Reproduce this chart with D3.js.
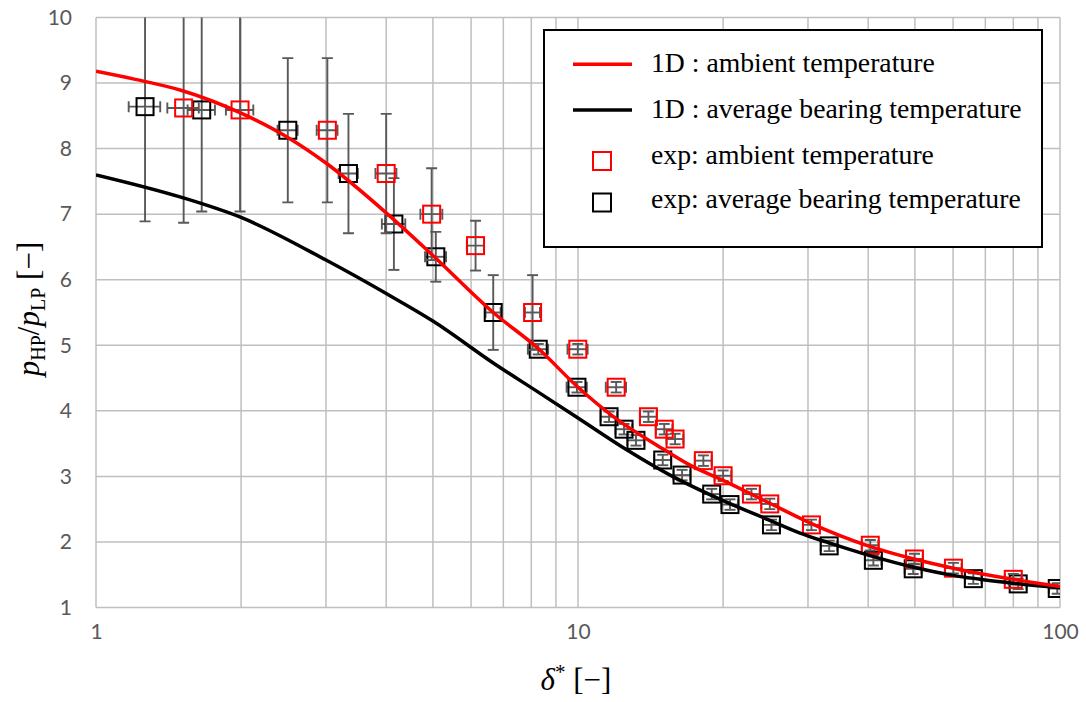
<!DOCTYPE html>
<html>
<head>
<meta charset="utf-8">
<script src="https://cdn.jsdelivr.net/npm/d3@7"></script>
<style>
  html, body { margin: 0; padding: 0; background: #fff; }
  svg { display: block; }
</style>
</head>
<body>
<svg id="chart" width="1086" height="702"></svg>
<script>
// 1D model: pressure ratio vs. dimensionless clearance
const modelAmbientX = [1, 1.2, 1.5, 2, 2.5, 3, 4, 5, 6.67, 8.27, 10, 11.8, 15, 17, 20, 25, 30.5, 40, 50, 60, 80, 100];
const modelAmbientY = [9.18, 9.06, 8.89, 8.54, 8.17, 7.78, 7.02, 6.37, 5.50, 4.95, 4.36, 3.92, 3.42, 3.18, 2.94, 2.59, 2.28, 1.94, 1.735, 1.60, 1.43, 1.32];

const modelBearingX = [1, 1.5, 2, 3, 4, 5, 6.67, 8.33, 10, 12.4, 15.7, 20, 25, 28.8, 32.7, 40, 50, 60, 70, 80, 100];
const modelBearingY = [7.60, 7.26, 6.95, 6.30, 5.79, 5.37, 4.73, 4.27, 3.89, 3.44, 3.00, 2.63, 2.33, 2.14, 2.00, 1.80, 1.61, 1.49, 1.42, 1.37, 1.30];

// Measurements, δ* evaluated at ambient temperature
const expAmbientX = [1.52, 1.99, 3.02, 4.0, 4.97, 6.13, 8.05, 9.99, 12.0, 14.0, 15.1, 15.9, 18.2, 20.0, 22.9, 25.0, 30.5, 40.4, 49.9, 60.1, 80.0];
const expAmbientY = [8.62, 8.59, 8.28, 7.62, 7.00, 6.52, 5.50, 4.94, 4.36, 3.91, 3.72, 3.57, 3.24, 3.01, 2.73, 2.58, 2.26, 1.95, 1.74, 1.60, 1.43];
const expAmbientXErr = [0.114, 0.13, 0.15, 0.2, 0.26, 0.25, 0.29, 0.48, 0.58, 0.56, 0.6, 0.64, 0.73, 0.8, 0.92, 1.0, 1.2, 1.6, 2.0, 2.4, 3.2];
const expAmbientYErr = [1.75, 1.55, 1.10, 0.91, 0.70, 0.38, 0.57, 0.08, 0.08, 0.08, 0.08, 0.08, 0.08, 0.08, 0.08, 0.08, 0.08, 0.08, 0.08, 0.08, 0.08];

// Measurements, δ* evaluated at average bearing temperature
const expBearingX = [1.264, 1.657, 2.50, 3.34, 4.15, 5.07, 6.67, 8.27, 9.95, 11.6, 12.46, 13.19, 14.99, 16.44, 18.94, 20.67, 25.2, 33.2, 41.0, 49.6, 66.1, 81.9, 98.7];
const expBearingY = [8.64, 8.59, 8.28, 7.62, 6.85, 6.35, 5.50, 4.94, 4.36, 3.91, 3.72, 3.55, 3.25, 3.02, 2.73, 2.57, 2.26, 1.94, 1.72, 1.59, 1.44, 1.36, 1.29];
const expBearingXErr = [0.095, 0.108, 0.12, 0.154, 0.232, 0.254, 0.24, 0.40, 0.48, 0.46, 0.50, 0.53, 0.60, 0.66, 0.76, 0.83, 1.0, 1.3, 1.6, 2.0, 2.6, 3.3, 3.9];
const expBearingYErr = [1.75, 1.55, 1.10, 0.91, 0.70, 0.38, 0.57, 0.08, 0.08, 0.08, 0.08, 0.08, 0.08, 0.08, 0.08, 0.08, 0.08, 0.08, 0.08, 0.08, 0.08, 0.08, 0.08];

const xTickValues = [1, 10, 100];
const yTickValues = [1, 2, 3, 4, 5, 6, 7, 8, 9, 10];
const legendLabels = [
  "1D : ambient temperature",
  "1D : average bearing temperature",
  "exp: ambient temperature",
  "exp: average bearing temperature"
];

const svg = d3.select("#chart");
const plot = { left: 96, right: 1060, top: 17.5, bottom: 607.5 };

const x = d3.scaleLog().domain([1, 100]).range([plot.left, plot.right]);
const y = d3.scaleLinear().domain([1, 10]).range([plot.bottom, plot.top]);

svg.append("defs").append("clipPath").attr("id", "plotClip")
  .append("rect")
  .attr("x", plot.left).attr("y", plot.top)
  .attr("width", plot.right - plot.left).attr("height", plot.bottom - plot.top);

// grid
const gridX = [];
for (const d of [1, 10]) for (let k = 1; k <= 9; k++) gridX.push(d * k);
gridX.push(100);

const grid = svg.append("g").attr("stroke", "#bfbfbf").attr("stroke-width", 1.5);
grid.selectAll("line.gx").data(gridX).join("line")
  .attr("x1", d => x(d)).attr("x2", d => x(d))
  .attr("y1", plot.top).attr("y2", plot.bottom);
grid.selectAll("line.gy").data(yTickValues).join("line")
  .attr("x1", plot.left).attr("x2", plot.right)
  .attr("y1", d => y(d)).attr("y2", d => y(d));

// axes (labels only)
const tickFont = "Lato, 'Open Sans', sans-serif";
const yAxis = svg.append("g")
  .attr("transform", `translate(${plot.left},0)`)
  .call(d3.axisLeft(y).tickValues(yTickValues).tickSize(0).tickPadding(24).tickFormat(d3.format("d")));
const xAxis = svg.append("g")
  .attr("transform", `translate(0,${plot.bottom})`)
  .call(d3.axisBottom(x).tickValues(xTickValues).tickSize(0).tickPadding(17).tickFormat(d3.format("d")));
[xAxis, yAxis].forEach(a => {
  a.select(".domain").remove();
  a.selectAll("text").attr("fill", "#595959").style("font-family", tickFont).style("font-size", "21px");
});

// experimental series with error bars
const plotLayer = svg.append("g").attr("clip-path", "url(#plotClip)");

function drawExp(xs, ys, xe, ye, color) {
  const pts = xs.map((v, i) => ({ x: v, y: ys[i], xe: xe[i], ye: ye[i] }));
  const g = plotLayer.append("g");
  const cap = 5.5;
  const eb = g.append("g").attr("stroke", "#595959").attr("stroke-width", 1.9).attr("fill", "none");
  pts.forEach(p => {
    const cx = x(p.x), cy = y(p.y);
    const xl = x(p.x - p.xe), xr = x(p.x + p.xe);
    const yt = y(p.y + p.ye), yb = y(p.y - p.ye);
    eb.append("line").attr("x1", xl).attr("x2", xr).attr("y1", cy).attr("y2", cy);
    eb.append("line").attr("x1", xl).attr("x2", xl).attr("y1", cy - cap).attr("y2", cy + cap);
    eb.append("line").attr("x1", xr).attr("x2", xr).attr("y1", cy - cap).attr("y2", cy + cap);
    eb.append("line").attr("x1", cx).attr("x2", cx).attr("y1", yt).attr("y2", yb);
    eb.append("line").attr("x1", cx - cap).attr("x2", cx + cap).attr("y1", yt).attr("y2", yt);
    eb.append("line").attr("x1", cx - cap).attr("x2", cx + cap).attr("y1", yb).attr("y2", yb);
  });
  const s = 17;
  g.selectAll("rect").data(pts).join("rect")
    .attr("x", d => x(d.x) - s / 2).attr("y", d => y(d.y) - s / 2)
    .attr("width", s).attr("height", s)
    .attr("fill", "none").attr("stroke", color).attr("stroke-width", 2);
}
drawExp(expBearingX, expBearingY, expBearingXErr, expBearingYErr, "#000000");
drawExp(expAmbientX, expAmbientY, expAmbientXErr, expAmbientYErr, "#ff0000");

// model curves
const line = d3.line().x(d => x(d[0])).y(d => y(d[1])).curve(d3.curveMonotoneX);
plotLayer.append("path")
  .datum(modelBearingX.map((v, i) => [v, modelBearingY[i]]))
  .attr("d", line).attr("fill", "none").attr("stroke", "#000000").attr("stroke-width", 3.5);
plotLayer.append("path")
  .datum(modelAmbientX.map((v, i) => [v, modelAmbientY[i]]))
  .attr("d", line).attr("fill", "none").attr("stroke", "#ff0000").attr("stroke-width", 3.5);

// axis titles
const serif = "'Liberation Serif', 'Times New Roman', serif";
const xt = svg.append("text")
  .attr("x", 576).attr("y", 690)
  .attr("text-anchor", "middle")
  .style("font-family", serif).style("font-size", "31px").attr("fill", "#000");
xt.append("tspan").style("font-style", "italic").text("δ");
xt.append("tspan").attr("dy", -11).style("font-size", "21px").text("*");
xt.append("tspan").attr("dy", 11).text(" [−]");

const yt = svg.append("text")
  .attr("transform", "translate(39,309) rotate(-90)")
  .attr("text-anchor", "middle")
  .style("font-family", serif).style("font-size", "31px").attr("fill", "#000");
yt.append("tspan").style("font-style", "italic").text("p");
yt.append("tspan").attr("dy", 6).style("font-size", "20px").text("HP");
yt.append("tspan").attr("dy", -6).text("/");
yt.append("tspan").style("font-style", "italic").text("p");
yt.append("tspan").attr("dy", 6).style("font-size", "20px").text("LP");
yt.append("tspan").attr("dy", -6).text(" [−]");

// legend
const lg = svg.append("g");
lg.append("rect")
  .attr("x", 544).attr("y", 30).attr("width", 498).attr("height", 217)
  .attr("fill", "#fff").attr("stroke", "#000").attr("stroke-width", 2);
const rowsY = [64.3, 110, 161, 202.5];
const baseY = [71.8, 118, 163.5, 207.5];
[["line", "#ff0000"], ["line", "#000000"], ["square", "#ff0000"], ["square", "#000000"]].forEach((it, i) => {
  if (it[0] === "line") {
    lg.append("line").attr("x1", 573).attr("x2", 632).attr("y1", rowsY[i]).attr("y2", rowsY[i])
      .attr("stroke", it[1]).attr("stroke-width", 3.5);
  } else {
    lg.append("rect").attr("x", 602 - 9).attr("y", rowsY[i] - 9).attr("width", 18).attr("height", 18)
      .attr("fill", "none").attr("stroke", it[1]).attr("stroke-width", 2);
  }
  lg.append("text").attr("x", 651).attr("y", baseY[i])
    .style("font-family", serif).style("font-size", "27.7px").attr("fill", "#000")
    .text(legendLabels[i]);
});
</script>
</body>
</html>
